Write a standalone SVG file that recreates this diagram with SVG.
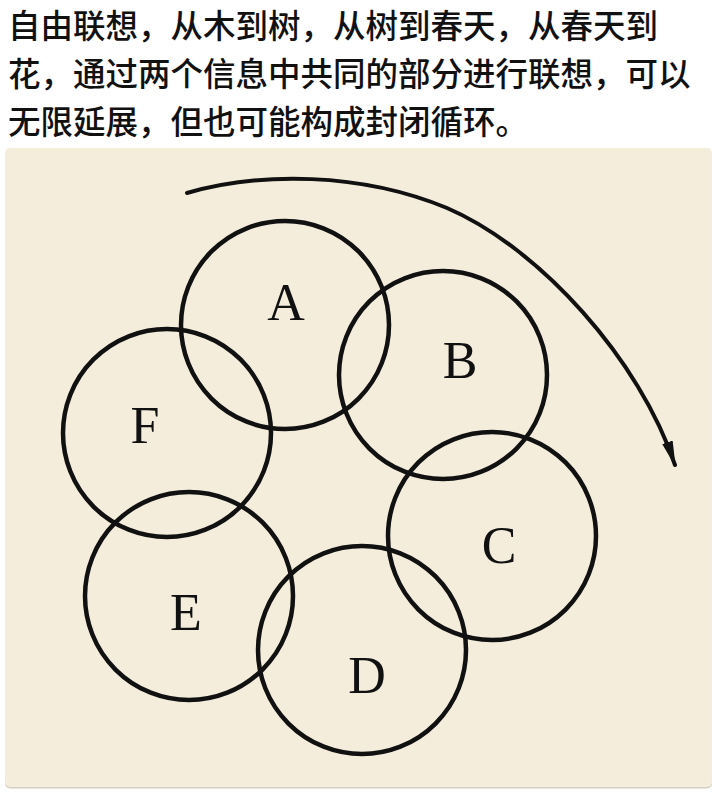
<svg xmlns="http://www.w3.org/2000/svg" width="717" height="800" viewBox="0 0 717 800">
<style>
.cap{font-family:"Noto Sans CJK SC","Noto Sans",sans-serif;font-size:32.5px;font-weight:500;fill:#111}
.ring{fill:none;stroke:#111;stroke-width:4.5}
.lbl{font-family:"Liberation Serif","DejaVu Serif",serif;font-size:52px;fill:#111;text-anchor:middle}
.flow{fill:none;stroke:#111;stroke-width:4;stroke-linecap:round}
</style>
<defs>
<marker id="head" markerUnits="userSpaceOnUse" markerWidth="32" markerHeight="16" viewBox="0 -8 32 16" refX="24" refY="0" orient="auto">
<path d="M0,-5.5 L26,0 L0,5.5 z" fill="#111"/>
</marker>
</defs>
<rect width="717" height="800" fill="#ffffff"/>
<g id="caption">
<text class="cap" x="8" y="38">自由联想，从木到树，从树到春天，从春天到</text>
<text class="cap" x="8" y="86">花，通过两个信息中共同的部分进行联想，可以</text>
<text class="cap" x="8" y="134">无限延展，但也可能构成封闭循环。</text>
</g>
<rect x="5" y="150" width="707" height="638.5" rx="5" fill="#d6d0c4"/>
<rect x="5" y="148" width="707" height="639" rx="5" fill="#f4eddc"/>
<g id="node-A"><circle class="ring" cx="285" cy="325" r="104"/><text class="lbl" x="286" y="320">A</text></g>
<g id="node-B"><circle class="ring" cx="443" cy="375" r="104"/><text class="lbl" x="460" y="378">B</text></g>
<g id="node-C"><circle class="ring" cx="492" cy="536" r="104"/><text class="lbl" x="499" y="563">C</text></g>
<g id="node-D"><circle class="ring" cx="362" cy="650" r="104"/><text class="lbl" x="367" y="693">D</text></g>
<g id="node-E"><circle class="ring" cx="189" cy="596" r="104"/><text class="lbl" x="186" y="630">E</text></g>
<g id="node-F"><circle class="ring" cx="167" cy="433" r="104"/><text class="lbl" x="145" y="443">F</text></g>
<g id="connectors">
<path class="flow" d="M187,193 C260,172 360,172 447,208 C540,248 640,360 675,465" marker-end="url(#head)"/>
</g>
</svg>
